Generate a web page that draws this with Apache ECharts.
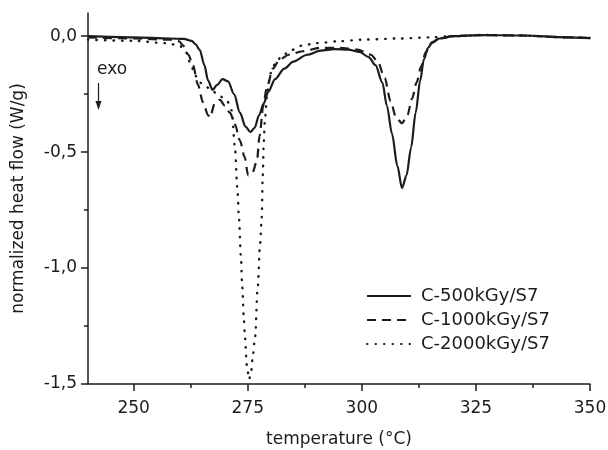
<!DOCTYPE html>
<html>
<head>
<meta charset="utf-8">
<script src="https://cdn.jsdelivr.net/npm/echarts@6/dist/echarts.min.js"></script>
<style>
  html, body { margin: 0; padding: 0; background: #fff; }
  #chart { width: 608px; height: 450px; }
</style>
</head>
<body>
<div id="chart"></div>
<script>
// DSC curves, [temperature, heat flow]
var c500 = [
  [240, 0.0], [250, -0.005], [258, -0.01], [261, -0.012], [262.7, -0.02], [263.6, -0.035],
  [264.5, -0.06], [265.5, -0.125], [266.3, -0.19], [267.3, -0.232], [268.3, -0.21],
  [269.5, -0.185], [270.7, -0.195], [272, -0.25], [273.3, -0.33], [274.5, -0.39],
  [275.6, -0.413], [276.5, -0.395], [277.5, -0.34], [278.5, -0.29], [279.5, -0.24],
  [281, -0.185], [283, -0.14], [285, -0.11], [288, -0.08], [291, -0.062], [294, -0.056],
  [297, -0.058], [299.5, -0.068], [301.5, -0.09], [303, -0.125], [304.5, -0.2],
  [305.5, -0.3], [306.6, -0.42], [307.8, -0.56], [308.8, -0.655], [309.8, -0.6],
  [310.8, -0.48], [311.8, -0.33], [312.8, -0.19], [313.6, -0.1], [314.5, -0.05],
  [315.5, -0.025], [317, -0.01], [320, 0.0], [326, 0.005], [335, 0.003], [345, -0.005], [350, -0.008]
];
var c1000 = [
  [240, -0.005], [250, -0.01], [258, -0.015], [260, -0.022], [260.8, -0.04], [262, -0.08],
  [263, -0.125], [264.1, -0.21], [265.2, -0.285], [266.3, -0.34], [266.7, -0.35],
  [267.8, -0.29], [268.9, -0.275], [270, -0.3], [271.1, -0.33], [272.2, -0.38],
  [273.3, -0.45], [274.3, -0.52], [275.1, -0.6], [276, -0.59], [277, -0.54],
  [277.6, -0.43], [278.4, -0.3], [279.2, -0.22], [280.5, -0.14], [282, -0.1],
  [284, -0.08], [287, -0.065], [291, -0.05], [295, -0.05], [299, -0.058], [302, -0.08],
  [303.5, -0.11], [305, -0.18], [306.3, -0.28], [307.5, -0.35], [308.8, -0.375],
  [310, -0.34], [311, -0.27], [312, -0.2], [313, -0.13], [314, -0.07], [315.2, -0.03],
  [317, -0.01], [320, 0.0], [326, 0.005], [335, 0.003], [345, -0.005], [350, -0.008]
];
var c2000 = [
  [240, -0.015], [250, -0.02], [257, -0.03], [260, -0.04], [261.5, -0.07], [262.5, -0.12],
  [263.5, -0.17], [264.5, -0.2], [266, -0.22], [267.5, -0.24], [269, -0.26], [270.5, -0.28],
  [271.5, -0.32], [272.2, -0.48], [272.7, -0.65], [273.1, -0.79], [273.5, -0.95],
  [273.8, -1.08], [274.1, -1.2], [274.4, -1.3], [274.8, -1.42], [275.3, -1.48],
  [275.8, -1.44], [276.1, -1.38], [276.6, -1.3], [277.2, -1.08], [277.7, -0.9],
  [278.05, -0.79], [278.3, -0.6], [278.5, -0.46], [278.8, -0.35], [279.3, -0.24],
  [280, -0.16], [281, -0.12], [282.5, -0.085], [284.5, -0.06], [287, -0.04], [290, -0.03],
  [295, -0.022], [300, -0.015], [308, -0.01], [315, -0.005], [320, 0.0], [326, 0.005],
  [335, 0.003], [345, -0.005], [350, -0.008]
];
var names = ['C-500kGy/S7', 'C-1000kGy/S7', 'C-2000kGy/S7'];
var xTicks = [250, 350, 25];      // labelled x range and step
var yTicks = [-1.5, 0, 0.5];      // labelled y range and step

var ink = '#1c1c1c';
var font = 'DejaVu Sans';

var chart = echarts.init(document.getElementById('chart'));

// plot area in px
var L = 88, R = 18, T = 13, B = 66;
var xMin = 240, xMax = 350, yMin = -1.5, yMax = 0.1;
var pxPerX = (608 - L - R) / (xMax - xMin);
var pxPerY = (450 - T - B) / (yMax - yMin);

var tickAxis = {
  axisLine: { show: false, onZero: false },
  axisTick: { show: true, inside: false, length: 7, lineStyle: { color: ink, width: 1.5 } },
  minorTick: { show: true, splitNumber: 2, length: 4, lineStyle: { color: ink, width: 1.5 } },
  splitLine: { show: false },
  minorSplitLine: { show: false }
};

option = {
  animation: false,
  backgroundColor: '#fff',
  grid: [
    { left: L, right: R, top: T, bottom: B, outerBoundsMode: 'none', containLabel: false },
    { left: L + (xTicks[0] - xMin) * pxPerX, right: R, top: T, bottom: B, outerBoundsMode: 'none', containLabel: false },
    { left: L, right: R, top: T + (yMax - yTicks[1]) * pxPerY, bottom: B, outerBoundsMode: 'none', containLabel: false }
  ],
  xAxis: [
    {
      gridIndex: 0, type: 'value', min: xMin, max: xMax,
      axisLine: { show: true, onZero: false, lineStyle: { color: ink, width: 1.5 } },
      axisTick: { show: false }, axisLabel: { show: false }, splitLine: { show: false },
      name: 'temperature (°C)', nameLocation: 'middle', nameGap: 47,
      nameTextStyle: { fontFamily: font, fontSize: 17, color: ink }
    },
    Object.assign({
      gridIndex: 1, type: 'value', min: xTicks[0], max: xTicks[1], interval: xTicks[2],
      axisLabel: { fontFamily: font, fontSize: 17, color: ink, margin: 16 }
    }, tickAxis),
    { gridIndex: 2, type: 'value', show: false, min: xMin, max: xMax }
  ],
  yAxis: [
    {
      gridIndex: 0, type: 'value', min: yMin, max: yMax,
      axisLine: { show: true, onZero: false, lineStyle: { color: ink, width: 1.5 } },
      axisTick: { show: false }, axisLabel: { show: false }, splitLine: { show: false },
      name: 'normalized heat flow (W/g)', nameLocation: 'middle', nameGap: 61,
      nameTextStyle: { fontFamily: font, fontSize: 17, color: ink }
    },
    { gridIndex: 1, type: 'value', show: false, min: yMin, max: yMax },
    Object.assign({
      gridIndex: 2, type: 'value', min: yTicks[0], max: yTicks[1], interval: yTicks[2],
      axisLabel: {
        fontFamily: font, fontSize: 17, color: ink, margin: 11,
        formatter: function (v) { return v.toFixed(1).replace('.', ','); }
      }
    }, tickAxis)
  ],
  legend: {
    left: 361, top: 282, orient: 'vertical',
    itemWidth: 44, itemHeight: 14, itemGap: 6,
    itemStyle: { opacity: 0 },
    textStyle: { fontFamily: font, fontSize: 18, color: ink, lineHeight: 18, padding: [0, 0, 0, 5] },
    data: names
  },
  series: [
    {
      name: names[0], type: 'line', xAxisIndex: 0, yAxisIndex: 0, data: c500,
      showSymbol: false, symbol: 'none', smooth: 0.3, smoothMonotone: 'x',
      lineStyle: { color: ink, width: 2.2, type: 'solid' }, itemStyle: { color: ink }
    },
    {
      name: names[1], type: 'line', xAxisIndex: 0, yAxisIndex: 0, data: c1000,
      showSymbol: false, symbol: 'none', smooth: 0.3, smoothMonotone: 'x',
      lineStyle: { color: ink, width: 2.2, type: [9, 6] }, itemStyle: { color: ink }
    },
    {
      name: names[2], type: 'line', xAxisIndex: 0, yAxisIndex: 0, data: c2000,
      showSymbol: false, symbol: 'none', smooth: 0.3, smoothMonotone: 'x',
      lineStyle: { color: ink, width: 2.4, type: [0.5, 8], cap: 'round' }, itemStyle: { color: ink }
    }
  ],
  graphic: [
    { type: 'text', left: 97, top: 61, style: { text: 'exo', fontFamily: font, fontSize: 17, fill: ink } },
    { type: 'line', shape: { x1: 98.5, y1: 83, x2: 98.5, y2: 108 }, style: { stroke: ink, lineWidth: 1.2 } },
    { type: 'polygon', shape: { points: [[95.5, 101], [101.5, 101], [98.5, 110]] }, style: { fill: ink } }
  ]
};

chart.setOption(option);
</script>
</body>
</html>
